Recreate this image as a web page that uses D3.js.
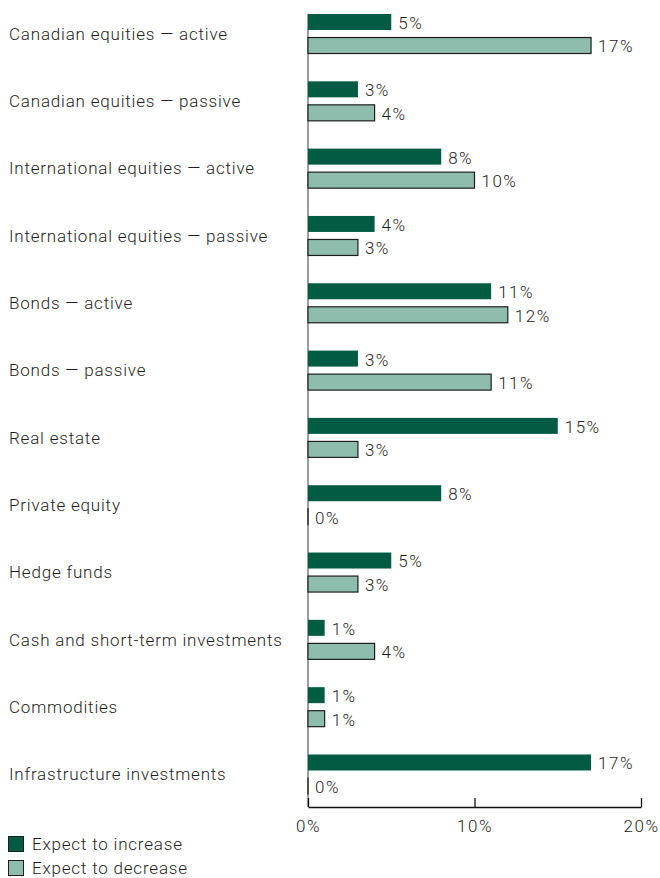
<!DOCTYPE html>
<html>
<head>
<meta charset="utf-8">
<script src="https://cdn.jsdelivr.net/npm/d3@7"></script>
<style>
  html, body { margin: 0; padding: 0; background: #fff; }
  svg { display: block; font-family: Roboto, "Liberation Sans", sans-serif; font-weight: 300; }
</style>
</head>
<body>
<script>
// Asset classes, in display order
const categories = [
  "Canadian equities \u2014 active",
  "Canadian equities \u2014 passive",
  "International equities \u2014 active",
  "International equities \u2014 passive",
  "Bonds \u2014 active",
  "Bonds \u2014 passive",
  "Real estate",
  "Private equity",
  "Hedge funds",
  "Cash and short-term investments",
  "Commodities",
  "Infrastructure investments"
];
// Share of respondents (%)
const expectIncrease = [5, 3, 8, 4, 11, 3, 15, 8, 5, 1, 1, 17];
const expectDecrease = [17, 4, 10, 3, 12, 11, 3, 0, 3, 4, 1, 0];
const seriesNames = ["Expect to increase", "Expect to decrease"];
const xTicks = [0, 10, 20];

const width = 660, height = 878;
const colors = { inc: "#035b43", dec: "#8fbdad" };
const fontSize = 17;
const textColor = "#1e1e1e";

const svg = d3.select("body").append("svg")
  .attr("width", width).attr("height", height);

const x = d3.scaleLinear().domain([0, 20]).range([308, 641]);

const y = d3.scaleBand().domain(categories)
  .range([14, 794]).paddingInner(0.413).paddingOuter(0);

const ySub = d3.scaleBand().domain(["inc", "dec"])
  .range([0, y.bandwidth()]).paddingInner(0.32);

const rows = categories.map((c, i) => ({
  cat: c,
  vals: [{ key: "inc", v: expectIncrease[i] }, { key: "dec", v: expectDecrease[i] }]
}));

// Category labels
svg.append("g").selectAll("text").data(categories).join("text")
  .attr("x", 9)
  .attr("y", d => y(d) + y.bandwidth() / 2)
  .attr("dy", "0.35em")
  .attr("font-size", fontSize)
  .attr("letter-spacing", 0.8)
  .attr("fill", textColor)
  .text(d => d);

// Vertical baseline
svg.append("line")
  .attr("x1", x(0)).attr("x2", x(0))
  .attr("y1", 14).attr("y2", 807)
  .attr("stroke", "#858585").attr("stroke-width", 1.6);

// Bars (a zero value keeps a hairline so its outline still shows)
const groups = svg.append("g").selectAll("g").data(rows).join("g")
  .attr("transform", d => `translate(0,${y(d.cat)})`);

groups.selectAll("rect").data(d => d.vals).join("rect")
  .attr("x", x(0))
  .attr("y", d => ySub(d.key))
  .attr("width", d => Math.max(x(d.v) - x(0), 0.01))
  .attr("height", ySub.bandwidth())
  .attr("fill", d => colors[d.key])
  .attr("stroke", d => d.key === "dec" ? "#1e1e1e" : "none")
  .attr("stroke-width", 1.2);

// Value labels
groups.selectAll("text").data(d => d.vals).join("text")
  .attr("x", d => x(d.v) + 7)
  .attr("y", d => ySub(d.key) + ySub.bandwidth() / 2 + 1)
  .attr("dy", "0.35em")
  .attr("font-size", fontSize)
  .attr("letter-spacing", 1.5)
  .attr("fill", textColor)
  .text(d => d.v + "%");

// Bottom axis with upward ticks
const axis = svg.append("g")
  .attr("transform", "translate(0,807)")
  .call(d3.axisBottom(x).tickValues(xTicks).tickFormat(d => d + "%")
    .tickSizeInner(-9).tickSizeOuter(0).tickPadding(13));
axis.select(".domain").attr("stroke", "#111").attr("stroke-width", 1.3);
axis.selectAll(".tick line").attr("stroke", "#111").attr("stroke-width", 1.3);
axis.selectAll(".tick text").attr("font-size", fontSize).attr("fill", textColor)
  .attr("letter-spacing", 1.5)
  .attr("font-family", "Roboto, 'Liberation Sans', sans-serif").attr("font-weight", 300);

// Legend
const legend = svg.append("g").selectAll("g").data(seriesNames).join("g")
  .attr("transform", (d, i) => `translate(8,${836 + i * 24})`);
legend.append("rect")
  .attr("x", 0.5).attr("y", 0.5)
  .attr("width", 15).attr("height", 15)
  .attr("fill", (d, i) => i === 0 ? colors.inc : colors.dec)
  .attr("stroke", "#1e1e1e").attr("stroke-width", 1);
legend.append("text")
  .attr("x", 24).attr("y", 8)
  .attr("dy", "0.35em")
  .attr("font-size", fontSize)
  .attr("letter-spacing", 0.8)
  .attr("fill", textColor)
  .text(d => d);
</script>
</body>
</html>
